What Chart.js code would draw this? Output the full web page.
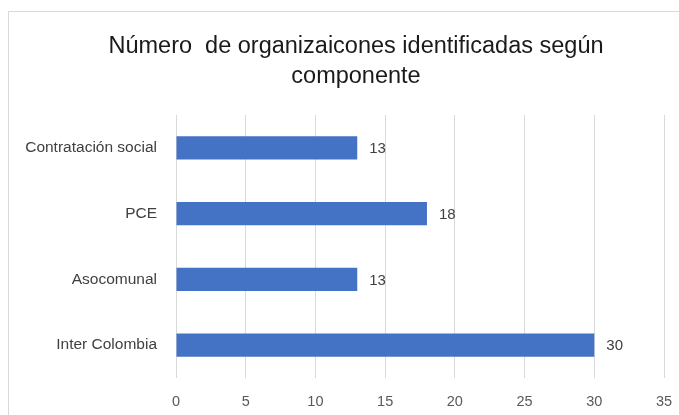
<!DOCTYPE html>
<html>
<head>
<meta charset="utf-8">
<script src="https://cdn.jsdelivr.net/npm/chart.js@4"></script>
<style>
html,body{margin:0;padding:0;background:#fff;overflow:hidden;}
#wrap{width:679px;height:415px;position:relative;}
</style>
</head>
<body>
<div id="wrap"><canvas id="c" width="679" height="415"></canvas></div>
<script>
const titleLines = ['Número  de organizaicones identificadas según', 'componente'];
const categories = ['Contratación social', 'PCE', 'Asocomunal', 'Inter Colombia'];
const values = [13, 18, 13, 30];
const xTicks = [0, 5, 10, 15, 20, 25, 30, 35];

const FONT = '"Liberation Sans", Arial, sans-serif';

const framePlugin = {
  id: 'frame',
  beforeDraw(chart) {
    const ctx = chart.ctx;
    ctx.save();
    ctx.fillStyle = '#fff';
    ctx.fillRect(0, 0, chart.width, chart.height);
    ctx.strokeStyle = '#d9d9d9';
    ctx.lineWidth = 1;
    ctx.beginPath();
    ctx.moveTo(8.5, chart.height + 5);
    ctx.lineTo(8.5, 11.5);
    ctx.lineTo(chart.width + 5, 11.5);
    ctx.stroke();
    ctx.restore();
  }
};

const titlePlugin = {
  id: 'customTitle',
  afterDraw(chart) {
    const ctx = chart.ctx;
    ctx.save();
    ctx.font = '23.5px ' + FONT;
    ctx.fillStyle = '#1a1a1a';
    ctx.textAlign = 'center';
    ctx.textBaseline = 'middle';
    titleLines.forEach((t, i) => ctx.fillText(t, 356, 47 + i * 29.5));
    ctx.restore();
  }
};

const labelPlugin = {
  id: 'vlabels',
  afterDatasetsDraw(chart) {
    const ctx = chart.ctx;
    const meta = chart.getDatasetMeta(0);
    ctx.save();
    ctx.font = '15px ' + FONT;
    ctx.fillStyle = '#404040';
    ctx.textAlign = 'left';
    ctx.textBaseline = 'middle';
    meta.data.forEach((bar, i) => {
      ctx.fillText(String(values[i]), bar.x + 12, bar.y + 1);
    });
    ctx.restore();
  }
};

new Chart(document.getElementById('c'), {
  type: 'bar',
  data: {
    labels: categories,
    datasets: [{
      data: values,
      backgroundColor: '#4472c4',
      borderWidth: 0,
      barPercentage: 0.35,
      categoryPercentage: 1.0
    }]
  },
  options: {
    indexAxis: 'y',
    responsive: false,
    animation: false,
    devicePixelRatio: 1,
    layout: { padding: { top: 115, left: 0, right: 15, bottom: 0 } },
    plugins: {
      legend: { display: false },
      tooltip: { enabled: false },
      title: { display: false }
    },
    scales: {
      x: {
        type: 'linear',
        min: 0,
        max: 35,
        afterBuildTicks(scale) { scale.ticks = xTicks.map(v => ({ value: v })); },
        grid: { color: '#d9d9d9', lineWidth: 1, drawTicks: false },
        border: { display: false },
        ticks: {
          color: '#595959',
          padding: 15,
          font: { family: FONT, size: 14.5 }
        },
        afterFit(scale) { scale.height = 37; scale.paddingLeft = 0; scale.paddingRight = 0; }
      },
      y: {
        grid: { display: false, drawTicks: false },
        border: { display: false },
        ticks: {
          color: '#404040',
          padding: 19,
          font: { family: FONT, size: 15.5 }
        },
        afterFit(scale) { scale.width = 176; scale.paddingTop = 0; scale.paddingBottom = 0; }
      }
    }
  },
  plugins: [framePlugin, titlePlugin, labelPlugin]
});
</script>
</body>
</html>
